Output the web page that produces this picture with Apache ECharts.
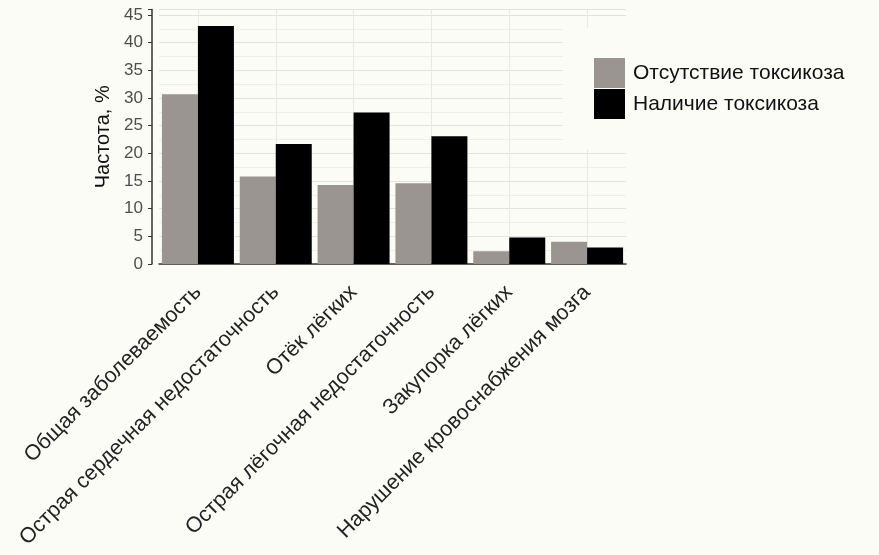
<!DOCTYPE html>
<html><head><meta charset="utf-8">
<script src="https://cdn.jsdelivr.net/npm/echarts@6/dist/echarts.min.js"></script>
<style>html,body{margin:0;padding:0;background:#fcfcf7;}#c{width:879px;height:555px;}</style>
</head><body><div id="c"></div>
<script>
const categories = ['Общая заболеваемость','Острая сердечная недостаточность','Отёк лёгких','Острая лёгочная недостаточность','Закупорка лёгких','Нарушение кровоснабжения мозга'];
const seriesNames = ['Отсутствие токсикоза','Наличие токсикоза'];
const absentValues = [30.7, 15.8, 14.3, 14.6, 2.3, 4.0];
const presentValues = [43.0, 21.7, 27.4, 23.1, 4.8, 3.0];
const yTicks = [0,5,10,15,20,25,30,35,40,45];

const chart = echarts.init(document.getElementById('c'));
const font = 'Liberation Sans, Arial, sans-serif';
chart.setOption({
  backgroundColor: '#fcfcf7',
  animation: false,
  textStyle: {fontFamily: font},
  grid: {left: 159, width: 467, top: 9.5, bottom: 291, containLabel: false},
  legend: {
    left: 563, top: 28, orient: 'vertical',
    padding: [30, 10, 30, 31],
    backgroundColor: '#fcfcf7',
    itemWidth: 31, itemHeight: 30, itemGap: 1,
    icon: 'rect',
    textStyle: {fontSize: 21, color: '#111', fontFamily: font, padding: [0,0,0,3]},
    data: seriesNames
  },
  xAxis: {
    type: 'category', data: categories, offset: 3,
    axisLine: {lineStyle: {color: '#333', width: 1.5}},
    axisTick: {alignWithLabel: true, length: 4, lineStyle: {color: '#333'}},
    axisLabel: {rotate: 45, fontSize: 21.5, color: '#222', margin: 22, interval: 0, fontFamily: font},
    splitLine: {show: true, alignWithLabel: true, lineStyle: {color: '#e8e8e4', width: 1}}
  },
  yAxis: {
    type: 'value', min: 0, max: 46, interval: 5, offset: 7,
    name: 'Частота, %', nameLocation: 'middle', nameGap: 38,
    nameTextStyle: {fontSize: 20, color: '#111', fontFamily: font},
    axisLine: {show: true, lineStyle: {color: '#333', width: 1.5}},
    axisTick: {show: true, length: 4, lineStyle: {color: '#333'}},
    axisLabel: {fontSize: 17, color: '#4d4d4d', margin: 9, fontFamily: font,
      formatter: v => yTicks.includes(v) ? String(v) : ''},
    splitLine: {show: true, lineStyle: {color: '#e2e2de', width: 1}},
    minorTick: {show: false, splitNumber: 2},
    minorSplitLine: {show: true, lineStyle: {color: '#eeeeea', width: 1}}
  },
  series: [
    {name: seriesNames[0], type: 'bar', data: absentValues, barGap: '0%', barCategoryGap: '7.5%', itemStyle: {color: '#9a9590'}},
    {name: seriesNames[1], type: 'bar', data: presentValues, barGap: '0%', barCategoryGap: '7.5%', itemStyle: {color: '#000'}}
  ]
});
</script></body></html>
